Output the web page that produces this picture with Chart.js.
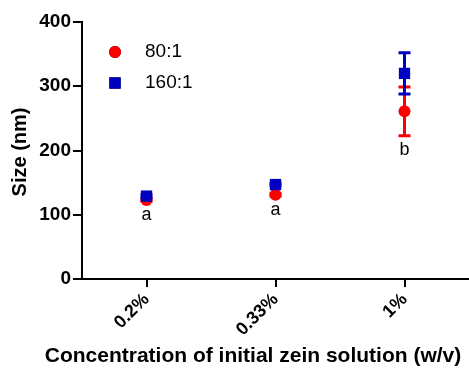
<!DOCTYPE html>
<html>
<head>
<meta charset="utf-8">
<script src="https://cdn.jsdelivr.net/npm/chart.js@4/dist/chart.umd.min.js"></script>
<style>
    html, body { margin: 0; padding: 0; background: #fff; overflow: hidden; }
    #wrap { width: 469px; height: 373px; position: relative; }
</style>
</head>
<body>
<div id="wrap"><canvas id="chart-size"></canvas></div>
<script>
// Data
const concentrations = ['0.2%', '0.33%', '1%'];
const sizeRatio80 = [123, 131, 261];
const errRatio80 = [2, 2, 38];
const sizeRatio160 = [129, 147, 320];
const errRatio160 = [2, 2, 32];
const groupLetters = ['a', 'a', 'b'];
const yTicks = [0, 100, 200, 300, 400];

const FONT = "'Liberation Sans', Arial, sans-serif";

// vertical error bars, drawn just under each dataset's markers
const errorBarPlugin = {
    id: 'errorBars',
    beforeDatasetDraw(chart, args) {
        const ds = chart.data.datasets[args.index];
        if (!ds.errors) return;
        const { ctx, scales } = chart;
        const meta = args.meta;
        ctx.save();
        ctx.strokeStyle = ds.borderColor;
        ctx.lineWidth = 3;
        meta.data.forEach((pt, i) => {
            const e = ds.errors[i];
            if (!e) return;
            const top = scales.y.getPixelForValue(ds.data[i] + e);
            const bot = scales.y.getPixelForValue(ds.data[i] - e);
            ctx.beginPath();
            ctx.moveTo(pt.x, top);
            ctx.lineTo(pt.x, bot);
            ctx.moveTo(pt.x - 6, top);
            ctx.lineTo(pt.x + 6, top);
            ctx.moveTo(pt.x - 6, bot);
            ctx.lineTo(pt.x + 6, bot);
            ctx.stroke();
        });
        ctx.restore();
    }
};

// letters, legend and axis titles
const annotatePlugin = {
    id: 'annotate',
    afterDraw(chart) {
        const { ctx, scales } = chart;
        ctx.save();
        ctx.fillStyle = '#000';

        // significance letters under the lower series
        ctx.font = '18px ' + FONT;
        ctx.textAlign = 'center';
        ctx.textBaseline = 'middle';
        groupLetters.forEach((txt, i) => {
            const low = Math.min(sizeRatio80[i] - errRatio80[i], sizeRatio160[i] - errRatio160[i]);
            const x = scales.x.getPixelForValue(i);
            ctx.fillText(txt, x, scales.y.getPixelForValue(low) + 14);
        });

        // legend in the top-left corner of the plot
        ctx.font = '19px ' + FONT;
        chart.data.datasets.forEach((ds, i) => {
            const y = 52 + i * 31;
            Chart.helpers.drawPoint(ctx, {
                pointStyle: ds.pointStyle,
                radius: ds.pointRadius,
                borderWidth: 0
            }, 115, y);
            ctx.fillStyle = ds.backgroundColor;
            ctx.fill();
            ctx.fillStyle = '#000';
            ctx.textAlign = 'left';
            ctx.fillText(ds.label, 145, y);
        });

        // axis titles
        ctx.font = 'bold 21px ' + FONT;
        ctx.textAlign = 'center';
        ctx.fillText('Concentration of initial zein solution (w/v)', 253, 356);
        ctx.font = 'bold 20px ' + FONT;
        ctx.translate(20, 152);
        ctx.rotate(-Math.PI / 2);
        ctx.fillText('Size (nm)', 0, 0);
        ctx.restore();
    }
};

new Chart(document.getElementById('chart-size'), {
    type: 'line',
    data: {
        labels: concentrations,
        datasets: [
            {
                label: '80:1',
                data: sizeRatio80,
                errors: errRatio80,
                showLine: false,
                pointStyle: 'circle',
                pointRadius: 6,
                pointBorderWidth: 0,
                backgroundColor: '#ff0000',
                borderColor: '#ff0000',
                order: 2
            },
            {
                label: '160:1',
                data: sizeRatio160,
                errors: errRatio160,
                showLine: false,
                pointStyle: 'rect',
                pointRadius: 8,
                pointBorderWidth: 0,
                backgroundColor: '#0000c0',
                borderColor: '#0000c0',
                order: 1
            }
        ]
    },
    options: {
        responsive: true,
        maintainAspectRatio: false,
        animation: false,
        layout: {
            autoPadding: false,
            padding: { top: 22, right: 0, left: 0, bottom: 0 }
        },
        plugins: {
            legend: { display: false },
            tooltip: { enabled: false }
        },
        scales: {
            x: {
                type: 'category',
                offset: true,
                afterFit(scale) {
                    scale.height = 94;
                    scale.paddingLeft = 0;
                    scale.paddingRight = 0;
                },
                border: { display: true, color: '#000', width: 2 },
                grid: {
                    drawOnChartArea: false,
                    color: '#000',
                    lineWidth: 2,
                    tickLength: 8,
                    offset: false
                },
                ticks: {
                    color: '#000',
                    font: { family: FONT, size: 18, weight: 'bold' },
                    maxRotation: 45,
                    minRotation: 45,
                    padding: 2
                }
            },
            y: {
                min: 0,
                max: 400,
                afterFit(scale) { scale.width = 82; },
                afterBuildTicks(scale) { scale.ticks = yTicks.map(v => ({ value: v })); },
                border: { display: true, color: '#000', width: 2 },
                grid: {
                    drawOnChartArea: false,
                    color: '#000',
                    lineWidth: 2,
                    tickLength: 9
                },
                ticks: {
                    color: '#000',
                    font: { family: FONT, size: 19, weight: 'bold' },
                    padding: 2
                }
            }
        }
    },
    plugins: [errorBarPlugin, annotatePlugin]
});
</script>
</body>
</html>
